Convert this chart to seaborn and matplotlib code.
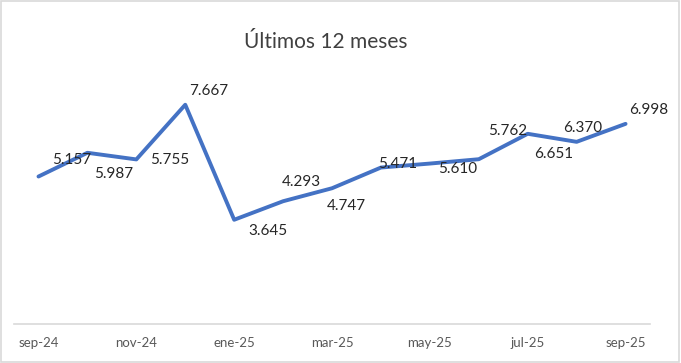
import pandas as pd
import seaborn as sns
import matplotlib.pyplot as plt
from matplotlib.patches import Rectangle

# Data
meses = ["sep-24", "oct-24", "nov-24", "dic-24", "ene-25", "feb-25", "mar-25",
         "abr-25", "may-25", "jun-25", "jul-25", "ago-25", "sep-25"]
valores = [5.157, 5.987, 5.755, 7.667, 3.645, 4.293, 4.747,
           5.471, 5.610, 5.762, 6.651, 6.370, 6.998]
etiquetas = ["5.157", "5.987", "5.755", "7.667", "3.645", "4.293", "4.747",
             "5.471", "5.610", "5.762", "6.651", "6.370", "6.998"]

# label placement (pixels from the point), mimicking Excel's auto layout
label_offsets = [(33, 17), (26, -21), (33, -1), (23, 14), (34, -11), (18, 19), (14, -18),
                 (17, 4), (28, -5), (29, 28), (26, -20), (6, 14), (23, 14)]

df = pd.DataFrame({"mes": meses, "valor": valores})

sns.set_style("white")
plt.rcParams['font.family'] = ['Lato', 'DejaVu Sans']

fig = plt.figure(figsize=(6.81, 3.63), dpi=100)
ax = fig.add_axes([0.0206, 0.1074, 0.9339, 0.7879])

sns.lineplot(data=df, x="mes", y="valor", ax=ax, color="#4472C4", linewidth=2.8,
             sort=False)

for i, (val, txt) in enumerate(zip(valores, etiquetas)):
    dx, dy = label_offsets[i]
    ax.annotate(txt, (i, val), xytext=(dx, dy), textcoords="offset pixels",
                ha="center", va="center", fontsize=11, color="#262626")

ax.set_xlim(-0.5, len(meses) - 0.5)
ax.set_ylim(0, 10)
ax.set_xticks(range(0, len(meses), 2))
ax.set_xticklabels(meses[::2], fontsize=9.5, color="#595959")
ax.tick_params(axis="x", length=0, pad=9)
ax.set_yticks([])
ax.set_xlabel("")
ax.set_ylabel("")
for side in ["top", "left", "right"]:
    ax.spines[side].set_visible(False)
ax.spines["bottom"].set_color("#D9D9D9")
ax.spines["bottom"].set_linewidth(1.2)

fig.text(0.479, 0.885, "Últimos 12 meses", ha="center", va="center",
         fontsize=15, color="#404040")

fig.patches.append(Rectangle((0.002, 0.003), 0.995, 0.993, transform=fig.transFigure,
                             fill=False, edgecolor="#D9D9D9", linewidth=1.2))

fig.savefig("out.png", dpi=100)
